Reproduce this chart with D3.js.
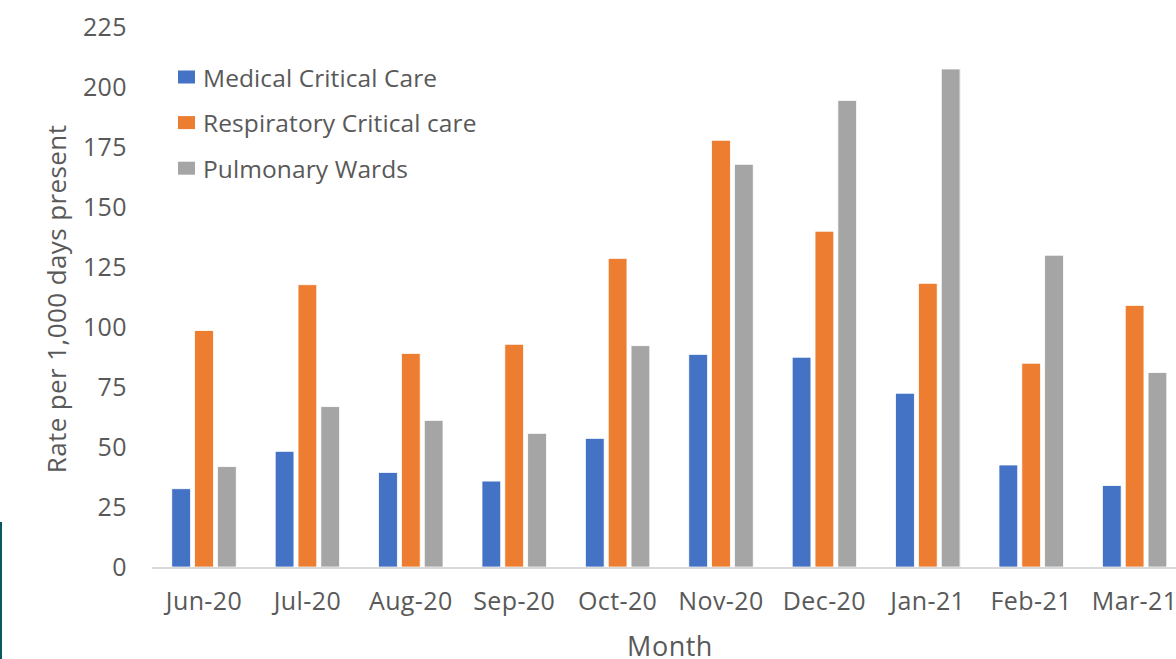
<!DOCTYPE html>
<html>
<head>
<meta charset="utf-8">
<script src="https://cdn.jsdelivr.net/npm/d3@7"></script>
<style>
  body { margin: 0; background: #fff; }
  svg { display: block; font-family: "Open Sans", sans-serif; }
</style>
</head>
<body>
<div id="chart"></div>
<script>
// chart data
var months = ["Jun-20", "Jul-20", "Aug-20", "Sep-20", "Oct-20", "Nov-20", "Dec-20", "Jan-21", "Feb-21", "Mar-21"];
var seriesNames = ["Medical Critical Care", "Respiratory Critical care", "Pulmonary Wards"];
var medicalCC = [32.6, 48.2, 39.4, 35.8, 53.6, 88.6, 87.4, 72.4, 42.5, 33.9];
var respiratoryCC = [98.5, 117.6, 89.0, 92.8, 128.6, 177.8, 139.9, 118.2, 84.9, 109.0];
var pulmonaryWards = [41.8, 66.8, 61.1, 55.7, 92.2, 167.8, 194.4, 207.5, 129.9, 81.0];
var yTicks = [0, 25, 50, 75, 100, 125, 150, 175, 200, 225];

var colors = ["#4472C4", "#ED7D31", "#A5A5A5"];
var textColor = "#595959";

var svgWidth = 1176;
var svgHeight = 659;

var svg = d3.select("#chart")
    .append("svg")
    .attr("width", svgWidth)
    .attr("height", svgHeight);

// table built from the arrays
var values = [medicalCC, respiratoryCC, pulmonaryWards];
var data = months.map(function(m, i) {
    return { month: m, vals: values.map(function(v, j) { return { key: seriesNames[j], value: v[i] }; }) };
});

var x0 = d3.scaleBand()
    .domain(months)
    .range([152.3, 1186.3])
    .padding(0);

var x1 = d3.scaleBand()
    .domain(seriesNames)
    .range([-32.2, 32.2])
    .paddingInner(0.18);

var y = d3.scaleLinear()
    .domain([0, 225])
    .range([567, 27]);

var color = d3.scaleOrdinal().domain(seriesNames).range(colors);

// faint panel edge and left frame line seen in the picture
svg.append("line")
    .attr("x1", 960.5).attr("x2", 960.5)
    .attr("y1", 69).attr("y2", 567)
    .attr("stroke", "#ececec").attr("stroke-width", 1);

svg.append("rect")
    .attr("x", 0).attr("y", 522)
    .attr("width", 2).attr("height", 137)
    .attr("fill", "#0b5660");

// bars
var groups = svg.selectAll(".group")
    .data(data)
    .enter()
    .append("g")
    .attr("class", "group")
    .attr("transform", d => `translate(${x0(d.month) + x0.bandwidth() / 2},0)`);

groups.selectAll("rect")
    .data(d => d.vals)
    .enter()
    .append("rect")
    .attr("x", d => x1(d.key))
    .attr("width", x1.bandwidth())
    .attr("y", d => y(d.value))
    .attr("height", d => y(0) - y(d.value))
    .attr("fill", d => color(d.key))
    .attr("stroke", "#fff")
    .attr("stroke-width", 0.75);

// x axis line
svg.append("line")
    .attr("x1", 152).attr("x2", svgWidth)
    .attr("y1", y(0) + 1).attr("y2", y(0) + 1)
    .attr("stroke", "#d9d9d9")
    .attr("stroke-width", 2);

// y axis (labels only)
var yAxis = d3.axisLeft(y).tickValues(yTicks).tickSize(0).tickPadding(0);
var yg = svg.append("g")
    .attr("transform", "translate(127,0)")
    .call(yAxis);
yg.select(".domain").remove();
yg.selectAll("text")
    .attr("fill", textColor)
    .style("font-size", "25px")
    .style("letter-spacing", "0.4px")
    .style("font-family", "Open Sans, sans-serif");

// x axis labels
var xAxis = d3.axisBottom(x0).tickSize(0).tickPadding(0);
var xg = svg.append("g")
    .attr("transform", "translate(0,592)")
    .call(xAxis);
xg.select(".domain").remove();
xg.selectAll("text")
    .attr("fill", textColor)
    .attr("dy", "0.72em")
    .style("font-size", "25px")
    .style("letter-spacing", "0.4px")
    .style("font-family", "Open Sans, sans-serif");

// axis titles
svg.append("text")
    .attr("transform", "translate(56,299) rotate(-90)")
    .attr("text-anchor", "middle")
    .attr("dominant-baseline", "central")
    .attr("fill", textColor)
    .style("font-size", "26px")
    .style("letter-spacing", "0.4px")
    .text("Rate per 1,000 days present");

svg.append("text")
    .attr("x", 670)
    .attr("y", 656)
    .attr("text-anchor", "middle")
    .attr("fill", textColor)
    .style("font-size", "27px")
    .style("letter-spacing", "0.5px")
    .text("Month");

// legend
var legend = svg.selectAll(".legend")
    .data(seriesNames)
    .enter()
    .append("g")
    .attr("class", "legend")
    .attr("transform", (d, i) => `translate(178,${77 + i * 45.6})`);

legend.append("rect")
    .attr("x", 0).attr("y", -6.5)
    .attr("width", 17).attr("height", 13)
    .attr("fill", d => color(d));

legend.append("text")
    .attr("x", 25)
    .attr("y", 0)
    .attr("dominant-baseline", "central")
    .attr("fill", textColor)
    .style("font-size", "24.5px")
    .style("letter-spacing", "0.1px")
    .text(d => d);
</script>
</body>
</html>
